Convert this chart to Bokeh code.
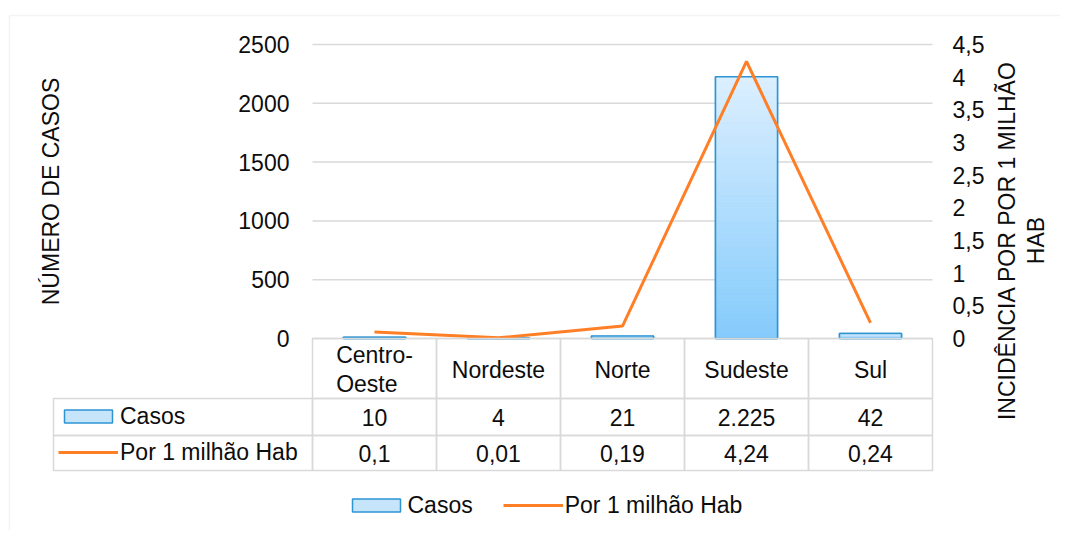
import numpy as np
from bokeh.plotting import figure
from bokeh.core.properties import value
from bokeh.models import (Range1d, LinearAxis, FixedTicker, BoxAnnotation, Label, LabelSet,
                          ColumnDataSource, Legend, LegendItem, CustomJSTickFormatter)
from bokeh.embed import file_html
from bokeh.resources import INLINE

# ---------------- data ----------------
regioes = ["Centro-Oeste", "Nordeste", "Norte", "Sudeste", "Sul"]
casos = [10, 4, 21, 2225, 42]
incidencia = [0.1, 0.01, 0.19, 4.24, 0.24]
ticks_casos = [0, 500, 1000, 1500, 2000, 2500]
ticks_inc = [0, 0.5, 1, 1.5, 2, 2.5, 3, 3.5, 4, 4.5]
serie_casos = "Casos"
serie_inc = "Por 1 milhão Hab"
titulo_esq = "NÚMERO DE CASOS"
titulo_dir = "INCIDÊNCIA POR POR 1 MILHÃO\nHAB"

# ---------------- style ----------------
FONT = "Liberation Sans"
FS = "23px"
TXT = "#0d0d0d"
GRID = "#d9d9d9"
ORANGE = "#ff7f27"
BLUE_LINE = "#2e95d3"
SWATCH = "#c6e5fb"
C_TOP = np.array([0xdc, 0xef, 0xff])
C_BOT = np.array([0x84, 0xcb, 0xfb])

# picture-pixel geometry
W, H = 1060, 530
PG_L, PG_T = 0, 0
PX_LEFT, PX_RIGHT, PX_TOP, PX_BOTTOM = 312, 932, 44, 338
n = len(regioes)
ymax = ticks_casos[-1]
imax = ticks_inc[-1]


def dx(px):
    return (px - PX_LEFT) / (PX_RIGHT - PX_LEFT) * n


def dy(py):
    return (PX_BOTTOM - py) / (PX_BOTTOM - PX_TOP) * ymax


def di(py):
    return (PX_BOTTOM - py) / (PX_BOTTOM - PX_TOP) * imax


# the frame covers the whole canvas; the plot area is 0..n x 0..ymax inside it
p = figure(width=W, height=H, output_backend="svg", toolbar_location=None, title=None,
           x_range=Range1d(dx(PG_L), dx(PG_L + W)),
           y_range=Range1d(dy(PG_T + H), dy(PG_T)),
           x_axis_location=None, y_axis_location=None,
           min_border_left=0, min_border_right=0, min_border_top=0, min_border_bottom=0)
p.outline_line_color = None
p.background_fill_color = "white"
p.border_fill_color = "white"
p.xgrid.visible = False
p.ygrid.visible = False
p.extra_y_ranges = {"inc": Range1d(di(PG_T + H), di(PG_T))}

# outer chart border
p.add_layout(BoxAnnotation(left=dx(9), right=dx(1200), top=dy(15), bottom=dy(700),
                           fill_color=None, line_color=GRID, line_width=1.5))

# horizontal gridlines at the left-axis ticks, across the category extent
p.segment(x0=[0] * len(ticks_casos), x1=[n] * len(ticks_casos), y0=ticks_casos, y1=ticks_casos,
          line_color=GRID, line_width=1.5)


def style_axis(ax, standoff):
    ax.axis_line_color = None
    ax.major_tick_line_color = None
    ax.minor_tick_line_color = None
    ax.major_tick_in = 0
    ax.major_tick_out = 0
    ax.major_label_standoff = standoff
    ax.major_label_text_font = FONT
    ax.major_label_text_font_size = FS
    ax.major_label_text_color = TXT


lax = LinearAxis(ticker=FixedTicker(ticks=ticks_casos), fixed_location=0)
style_axis(lax, 23)
p.add_layout(lax, "left")

rax = LinearAxis(y_range_name="inc", ticker=FixedTicker(ticks=ticks_inc), fixed_location=n,
                 formatter=CustomJSTickFormatter(code="return tick.toString().replace('.', ',');"))
style_axis(rax, 20)
p.add_layout(rax, "right")

# ---------------- bars ----------------
centers = [i + 0.5 for i in range(n)]
base = p.vbar(x=centers, top=casos, width=0.5, fill_color=SWATCH,
              line_color=BLUE_LINE, line_width=1.5)

nsl = 40
gx, gb, gt, gc = [], [], [], []
for i, v in enumerate(casos):
    for k in range(nsl):
        f = (k + 0.5) / nsl
        c = C_BOT + (C_TOP - C_BOT) * f
        gx.append(centers[i])
        gb.append(v * k / nsl)
        gt.append(v * (k + 1) / nsl)
        gc.append("#%02x%02x%02x" % tuple(int(round(t)) for t in c))
p.vbar(x=gx, bottom=gb, top=gt, width=0.5, fill_color=gc, line_color=gc, line_width=0.6)
p.vbar(x=centers, top=casos, width=0.5, fill_color=None, line_color=BLUE_LINE, line_width=1.5)

# ---------------- line ----------------
line_r = p.line(x=centers, y=incidencia, y_range_name="inc", line_color=ORANGE, line_width=3)

# ---------------- data table ----------------
TB_HEAD = (338, 398)
TB_ROWS = [(398, 435), (435, 470)]
cl, cr, ct, cb = [], [], [], []
for i in range(n):
    cl.append(i); cr.append(i + 1); ct.append(dy(TB_HEAD[0])); cb.append(dy(TB_HEAD[1]))
for (t, b) in TB_ROWS:
    cl.append(dx(53)); cr.append(0); ct.append(dy(t)); cb.append(dy(b))
    for i in range(n):
        cl.append(i); cr.append(i + 1); ct.append(dy(t)); cb.append(dy(b))
p.quad(left=cl, right=cr, top=ct, bottom=cb, fill_color=None, line_color=GRID, line_width=1.5)

src = ColumnDataSource(dict(
    x=centers,
    cat=[r.replace("-", "-\n") for r in regioes],
    casos=[f"{v:,}".replace(",", ".") for v in casos],
    inc=[("%g" % v).replace(".", ",") for v in incidencia],
))
set_kw = dict(text_font=value(FONT), text_font_size=value(FS), text_color=TXT,
              text_align="center", text_baseline="middle", text_line_height=1.13)
p.add_layout(LabelSet(x="x", y=dy(369), text="cat", source=src, **set_kw))
p.add_layout(LabelSet(x="x", y=dy(417), text="casos", source=src, **set_kw))
p.add_layout(LabelSet(x="x", y=dy(453), text="inc", source=src, **set_kw))

# axis titles
lab_kw = dict(text_font=FONT, text_font_size=FS, text_color=TXT,
              text_align="center", text_baseline="middle", text_line_height=1.1)
p.add_layout(Label(x=dx(50), y=dy(191), text=titulo_esq, angle=np.pi / 2, **lab_kw))
p.add_layout(Label(x=dx(1021), y=dy(240), text=titulo_dir, angle=np.pi / 2, **lab_kw))

# ---------------- legends ----------------
leg_kw = dict(glyph_width=60, glyph_height=16, label_standoff=2, padding=0, margin=0,
              border_line_color=None, background_fill_alpha=0,
              label_text_font=FONT, label_text_font_size=FS, label_text_color=TXT)
ROW_H = 27
table_leg = Legend(items=[LegendItem(label=serie_casos, renderers=[base]),
                          LegendItem(label=serie_inc, renderers=[line_r])],
                   orientation="vertical", spacing=36 - ROW_H,
                   location=(58 - PG_L, (PG_T + H) - (452 + ROW_H / 2)), **leg_kw)
p.add_layout(table_leg)

bottom_leg = Legend(items=[LegendItem(label=serie_casos, renderers=[base]),
                           LegendItem(label=serie_inc, renderers=[line_r])],
                    orientation="horizontal", spacing=30,
                    location=(345.5 - PG_L, (PG_T + H) - (505 + ROW_H / 2)), **leg_kw)
p.add_layout(bottom_leg)

open("out.html", "w").write(file_html(p, INLINE))
